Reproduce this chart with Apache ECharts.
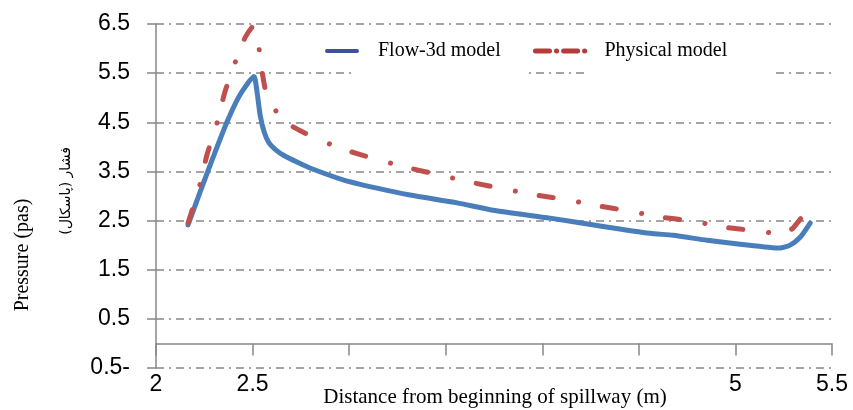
<!DOCTYPE html>
<html>
<head>
<meta charset="utf-8">
<script src="https://cdn.jsdelivr.net/npm/echarts@6/dist/echarts.min.js"></script>
<style>html,body{margin:0;padding:0;background:#fff}#c{width:853px;height:410px}</style>
</head>
<body>
<div id="c"></div>
<script>
// ---- data ----
const flowX = [2.166, 2.228, 2.295, 2.368, 2.435, 2.507, 2.523, 2.539, 2.560, 2.585, 2.620, 2.660, 2.730, 2.797, 2.968, 3.144, 3.315, 3.559, 3.745, 4.040, 4.299, 4.558, 4.677, 4.853, 5.024, 5.231, 5.283, 5.335, 5.387];
const flowY = [2.41, 3.08, 3.78, 4.51, 5.06, 5.43, 5.12, 4.65, 4.30, 4.08, 3.94, 3.83, 3.69, 3.57, 3.33, 3.16, 3.02, 2.86, 2.71, 2.55, 2.39, 2.24, 2.20, 2.10, 2.02, 1.94, 2.00, 2.16, 2.45];
const physX = [2.166, 2.228, 2.264, 2.316, 2.357, 2.409, 2.461, 2.502, 2.528, 2.539, 2.564, 2.580, 2.642, 2.709, 2.823, 2.979, 3.129, 3.289, 3.486, 3.642, 3.807, 3.968, 4.134, 4.289, 4.455, 4.615, 4.776, 4.936, 5.107, 5.221, 5.268, 5.299, 5.376];
const physY = [2.45, 3.24, 3.84, 4.49, 5.12, 5.71, 6.22, 6.45, 6.22, 5.78, 5.20, 5.00, 4.61, 4.41, 4.18, 3.94, 3.76, 3.59, 3.41, 3.27, 3.14, 3.02, 2.92, 2.80, 2.69, 2.57, 2.49, 2.37, 2.29, 2.24, 2.27, 2.35, 2.73];
const seriesNames = ['Flow-3d model', 'Physical model'];
const xTickLabels = [2, 2.5, 5, 5.5];
const xTitle = 'Distance from beginning of spillway (m)';
const yTitleEn = 'Pressure (pas)';
const yTitleFa = 'فشار (پاسکال)';

const zip = (a, b) => a.map((v, i) => [v, b[i]]);
const chart = echarts.init(document.getElementById('c'));
const gridGray = '#878787';
chart.setOption({
  animation: false,
  grid: { left: 156, right: 21, top: 24, bottom: 42, containLabel: false, outerBoundsMode: 'none' },
  legend: [
    { left: 325, top: 41, padding: 0, itemWidth: 30, itemHeight: 14, selectedMode: false,
      data: [{ name: seriesNames[0], itemStyle: { opacity: 0 }, lineStyle: { color: '#40519c', width: 4, type: 'solid' } }],
      textStyle: { fontFamily: 'Liberation Serif', fontSize: 20, color: '#000', padding: [0, 0, 0, 16] } },
    { left: 533, top: 41, padding: 0, itemWidth: 50, itemHeight: 14, selectedMode: false,
      data: [{ name: seriesNames[1], itemStyle: { opacity: 0 }, lineStyle: { color: '#b53c3b', width: 5, type: [14, 7, 0.1, 7], cap: 'round' } }],
      textStyle: { fontFamily: 'Liberation Serif', fontSize: 20, color: '#000', padding: [0, 0, 0, 14] } }
  ],
  xAxis: [
    { type: 'value', min: 2, max: 5.5, interval: 0.5, position: 'bottom',
      axisLine: { show: false, onZero: false }, axisTick: { show: false }, splitLine: { show: false },
      axisLabel: { margin: 5, fontFamily: 'Liberation Sans', fontSize: 23, color: '#000',
        formatter: v => xTickLabels.some(t => Math.abs(t - v) < 1e-9) ? String(v) : '' } },
    { type: 'value', min: 2, max: 5.5, interval: 0.5, position: 'top',
      axisLine: { show: true, onZero: true, lineStyle: { color: gridGray, width: 1.5 } },
      axisTick: { show: true, inside: true, length: 12, lineStyle: { color: gridGray, width: 1.5 } },
      axisLabel: { show: false }, splitLine: { show: false } }
  ],
  yAxis: {
    type: 'value', min: -0.5, max: 6.5, interval: 1,
    axisLine: { show: true, onZero: false, lineStyle: { color: gridGray, width: 1.5 } },
    axisTick: { show: true, length: 9, lineStyle: { color: gridGray, width: 1.5 } },
    axisLabel: { margin: 26, fontFamily: 'Liberation Sans', fontSize: 23, color: '#000',
      formatter: v => v < 0 ? Math.abs(v) + '-' : String(v) },
    splitLine: { show: true, lineStyle: { color: gridGray, width: 1.6, type: [8, 5, 2, 5] } }
  },
  graphic: [
    { type: 'rect', z: 5, shape: { x: 355, y: 66, width: 172, height: 14 }, style: { fill: '#fff' } },
    { type: 'rect', z: 5, shape: { x: 585, y: 66, width: 188, height: 14 }, style: { fill: '#fff' } },
    { type: 'text', z: 6, x: 495, y: 397,
      style: { text: xTitle, fontFamily: 'Liberation Serif', fontSize: 21, fill: '#000', align: 'center', verticalAlign: 'middle' } },
    { type: 'text', z: 6, x: 23, y: 255, rotation: Math.PI / 2,
      style: { text: yTitleEn, fontFamily: 'Liberation Serif', fontSize: 20, fill: '#000', align: 'center', verticalAlign: 'middle' } },
    { type: 'text', z: 6, x: 66, y: 191, rotation: Math.PI / 2,
      style: { text: yTitleFa, fontFamily: 'DejaVu Sans', fontSize: 14, fill: '#000', align: 'center', verticalAlign: 'middle' } }
  ],
  series: [
    { name: seriesNames[0], type: 'line', xAxisIndex: 0, data: zip(flowX, flowY), symbol: 'none', smooth: 0.2, z: 3,
      lineStyle: { color: '#4a7ebb', width: 5, cap: 'round', join: 'round' }, itemStyle: { color: '#4a7ebb' } },
    { name: seriesNames[1], type: 'line', xAxisIndex: 0, data: zip(physX, physY), symbol: 'none', smooth: 0.15, z: 4,
      lineStyle: { color: '#c0504d', width: 5, cap: 'round', join: 'round', type: [14, 26, 0.1, 24] }, itemStyle: { color: '#c0504d' } }
  ]
});
</script>
</body>
</html>
